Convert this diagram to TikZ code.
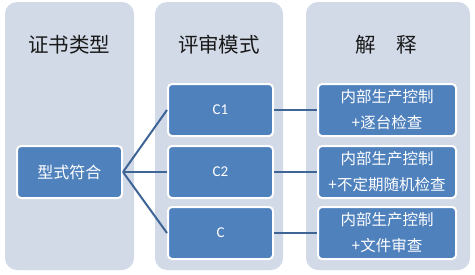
\documentclass[tikz,border=0pt]{standalone}
\usepackage{fontspec}
\newfontfamily\cjk{Noto Sans CJK SC}
\newfontfamily\latin{Carlito}
\usepackage{xcolor}
\definecolor{lanbg}{HTML}{D2D9E7}
\definecolor{lanbox}{HTML}{4F81BD}
\definecolor{lanline}{HTML}{3E6596}

\begin{document}
\begin{tikzpicture}[x=1pt,y=-1pt,
    column/.style={fill=lanbg,rounded corners=12pt,inner sep=0pt,
      minimum height=268pt},
    head/.style={font=\cjk\fontsize{20.5}{24}\selectfont,text=black!90},
    box/.style={fill=lanbox,draw=white,line width=2pt,rounded corners=4pt,
      inner sep=0pt,minimum height=52pt,text=white,align=center},
    link/.style={draw=lanline,line width=2pt}]
        \useasboundingbox (0,0) rectangle (475,274);
        \fill[white] (0,0) rectangle (475,274);

        % --- 背景列 ---
        \node[column,minimum width=129pt] (col1) at (69.5,136) {};
        \node[column,minimum width=128pt] (col2) at (219,136) {};
        \node[column,minimum width=164pt] (col3) at (388,136) {};

        % 标题
        \node[head] (h1) at (69.5,45) {证书类型};
        \node[head] (h2) at (219,45) {评审模式};
        \node[head] (h3) at (386.5,45) {解\hspace{1em}释};

        % --- 方框 ---
        \node[box,minimum width=105pt,font=\cjk\fontsize{16}{18}\selectfont]
          (type) at (69.5,172) {型式符合};

        \node[box,minimum width=105pt,font=\latin\fontsize{15}{18}\selectfont]
          (c1) at (220.5,110) {C1};
        \node[box,minimum width=105pt,font=\latin\fontsize{15}{18}\selectfont]
          (c2) at (220.5,172) {C2};
        \node[box,minimum width=105pt,font=\latin\fontsize{15}{18}\selectfont]
          (c) at (220.5,233) {C};

        \node[box,minimum width=138pt,font=\cjk\fontsize{15.5}{26}\selectfont]
          (e1) at (387,110) {内部生产控制\\+逐台检查};
        \node[box,minimum width=138pt,font=\cjk\fontsize{15.5}{26}\selectfont]
          (e2) at (387,172) {内部生产控制\\+不定期随机检查};
        \node[box,minimum width=138pt,font=\cjk\fontsize{15.5}{26}\selectfont]
          (e3) at (387,233) {内部生产控制\\+文件审查};

        % --- 连线 ---
        \draw[link] (type.east) -- (c1.west);
        \draw[link] (type.east) -- (c2.west);
        \draw[link] (type.east) -- (c.west);
        \draw[link] (c1.east) -- (e1.west);
        \draw[link] (c2.east) -- (e2.west);
        \draw[link] (c.east) -- (e3.west);
      \end{tikzpicture}
\end{document}
